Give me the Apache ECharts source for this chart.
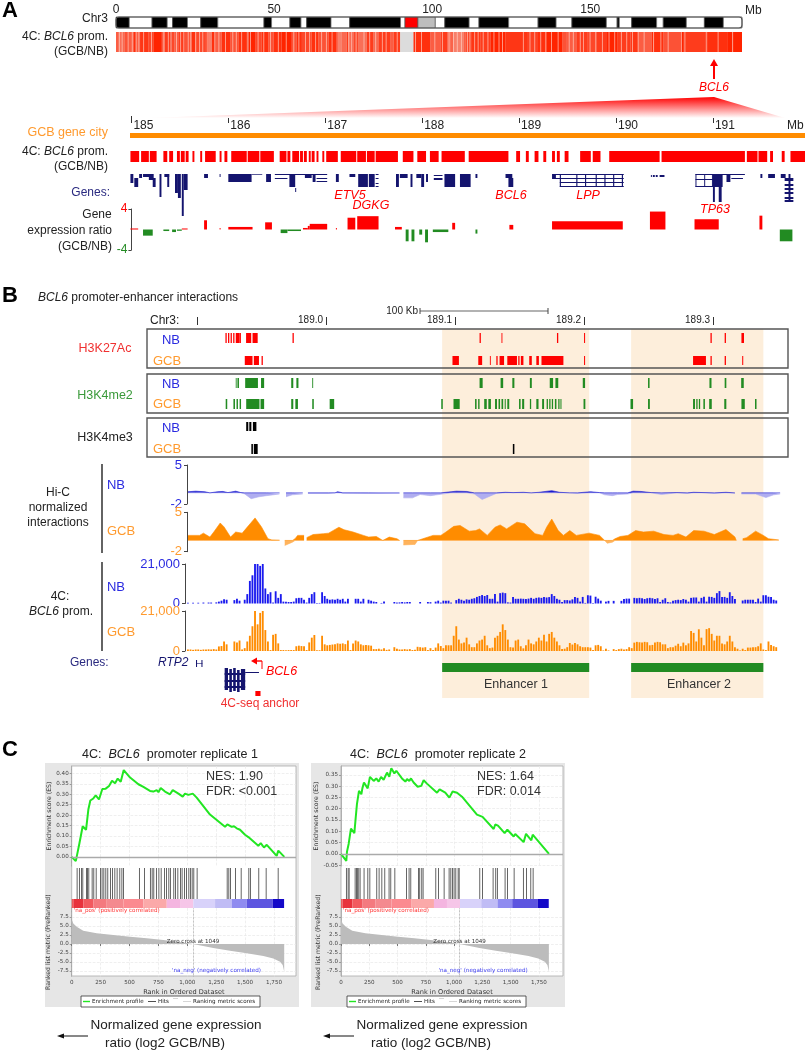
<!DOCTYPE html>
<html><head><meta charset="utf-8">
<style>html,body{margin:0;padding:0;background:#fff}#c{width:805px;height:1050px}</style>
<script src="https://cdn.jsdelivr.net/npm/echarts@6/dist/echarts.min.js"></script>
</head><body><div id="c"></div>
<script>
// ---------- Panel A data (Mb) ----------
const chrBands=[[0,4.2,1],[4.2,11.4,0],[11.4,16.2,1],[16.2,17.9,0],[17.9,22.6,1],[22.6,26.8,0],[26.8,32.2,1],[32.2,46.8,0],[46.8,49.2,1],[49.2,55,0],[55,58.5,1],[58.5,60.3,0],[60.3,68,1],[68,73.9,0],[73.9,90,1],[90,91.4,0],[91.4,95.5,2],[95.5,101,3],[101,104,0],[104,111.7,1],[111.7,114.8,0],[114.8,124.2,1],[124.2,133.5,0],[133.5,139.2,1],[139.2,144.2,0],[144.2,155.1,1],[155.1,158.5,0],[158.5,159.2,1],[159.2,163.1,0],[163.1,171,1],[171,173.1,0],[173.1,180.4,1],[180.4,186.1,0],[186.1,192.1,1],[192.1,198,0]];
const chr4cEnds=[0.7,2.8,4.4,5.5,6.5,7.6,10.2,11.8,14.5,15.3,17.1,17.6,18.5,19.7,21.8,23.9,25.5,28.2,29.2,30.3,31.3,33.4,36.1,38.7,41.4,41.9,44,46.1,48.2,49.8,52.4,55.6,57.2,58.8,61.9,64,67.2,69.8,70.4,71.4,73,73.5,75.1,76.7,79.3,81.4,83,86.7,87.8,89.9,94.1,99.4,102.6,104.7,105.7,106.8,110,110.5,112.6,115.2,118.4,123.1,130,133.2,136.3,141.1,142.6,145.8,149,152.1,155.3,158.5,162.7,165.3,169.5,170.1,173.2,178.5,179.6,186.4,186.9,193.3,194.9,198];
const chr4cLevels=[.5,.4,.6,.5,.9,.5,.85,.7,1,.5,.8,.3,.7,.5,.8,.6,.9,.7,.8,.2,.9,.5,.9,.6,.9,.2,1,.7,.9,.6,.9,1,.6,.9,.7,.9,.6,.9,.4,.2,.4,.8,.4,.7,.35,.8,.4,.8,.5,.8,0,.9,.5,.8,.4,.45,.2,.5,.7,.85,.8,1,.85,.75,.9,1,.6,.5,.8,.7,.8,1,.8,.85,.5,.95,.9,.6,1,.8,1,.9,1,1];
const chr4cPaleStripes=[1,1.8,3.7,5,6.2,7.1,8.6,11.1,15,16.4,19,20.3,21.3,22.7,23.5,25,26.3,27.3,28.7,31.1,32.4,34.5,36.8,37.9,39.6,42.4,44.8,46.6,48.7,51.2,53.7,56.1,57.7,59.8,61.1,63,64.9,66.4,68.2,73.5,74.4,75.8,78.3,80.1,82,84.1,85.3,88.8,94.6,96.5,100.7,103.1,105.2,106.6,107.8,109.1,111,111.8,113.3,114.4,116,117.5,119.4,121,122.1,128.7,130.8,132.3,134.2,135.8,137.6,139.7,143.2,144.5,146.7,147.7,149.8,151.6,153.7,155.8,157.6,159.7,161.4,163.2,165,166.9,169.9,172.2,174.5,178.7,179.8,186.7,190.3,194.9];
const chrTicks=[0,50,100,150];
const zoomTicks=[185,186,187,188,189,190,191];
const zoom4c=[[184.99,185.08],[185.1,185.18],[185.19,185.26],[185.33,185.37],[185.39,185.43],[185.47,185.5],[185.51,185.55],[185.56,185.59],[185.63,185.65],[185.71,185.73],[185.76,185.87],[185.91,185.93],[185.96,185.99],[186.03,186.19],[186.2,186.32],[186.33,186.47],[186.53,186.6],[186.61,186.64],[186.66,186.73],[186.74,186.77],[186.78,186.81],[186.83,186.85],[186.86,186.89],[186.91,186.93],[186.97,186.99],[187.01,187.13],[187.16,187.32],[187.33,187.42],[187.43,187.51],[187.52,187.75],[187.8,187.91],[187.95,188.04],[188.08,188.17],[188.2,188.44],[188.48,188.89],[188.97,189.01],[189.07,189.1],[189.16,189.2],[189.25,189.28],[189.34,189.37],[189.39,189.42],[189.47,189.51],[189.63,189.74],[189.76,189.84],[189.93,190.45],[190.47,191.33],[191.35,191.46],[191.47,191.56],[191.59,191.62],[191.71,191.74],[191.8,191.95]];
const zoomGenes=[[184.99,185.02,1,10],[185.03,185.07,5,14],[185.08,185.11,1,5],[185.12,185.19,1,4],[185.18,185.23,1,7],[185.22,185.25,5,14],[185.29,185.31,1,24],[185.34,185.39,1,4],[185.37,185.39,1,14],[185.45,185.48,1,20],[185.48,185.51,1,25],[185.52,185.54,1,43],[185.54,185.58,1,17],[185.75,185.79,1,5],[185.91,185.92,1,4],[186.0,186.24,1,9],[186.24,186.35,1,1.7],[186.39,186.44,1,9],[186.48,187.02,1,2],[186.48,186.61,5,6],[186.63,186.69,1,14],[186.69,186.7,15,19],[186.79,186.86,1,5],[186.87,186.9,1,9],[186.91,187.02,5,6],[186.91,187.02,8,9],[187.11,187.14,1,9],[187.25,187.31,1,4],[187.34,187.44,1,14],[187.45,187.51,1,14],[187.52,187.55,1,2],[187.52,187.55,5,6],[187.52,187.55,10,11],[187.52,187.55,13,14],[187.73,187.76,1,14],[187.77,187.85,1,5],[187.88,187.9,1,14],[187.94,187.99,1,5],[187.99,188.02,1,14],[188.04,188.06,1,9],[188.12,188.21,2,3],[188.12,188.21,5,7],[188.23,188.34,1,14],[188.39,188.5,1,14],[188.55,188.57,1,5],[188.86,188.93,1,5],[188.89,188.94,5,14],[189.34,190.08,1,2],[189.34,190.08,5,6],[189.42,190.08,9,10],[189.42,190.08,13,14],[189.42,189.432,1,14],[189.59,189.602,1,14],[189.68,189.692,1,14],[189.79,189.802,1,14],[189.88,189.892,1,14],[189.97,189.982,1,14],[190.06,190.072,1,14],[189.34,189.38,2,5],[190.36,190.37,2,4],[190.38,190.4,2,4],[190.41,190.43,2,4],[190.45,190.5,2,4],[190.82,191.33,1,2],[190.82,191.02,6,7],[190.82,191.02,13,14],[190.82,190.83,1,14],[190.91,190.92,1,14],[190.99,191.0,1,14],[191.0,191.1,1,14],[191.0,191.02,14,29],[191.06,191.09,14,29],[191.14,191.18,1,9],[191.19,191.31,5,6],[191.49,191.51,1,5],[191.57,191.64,1,5],[191.7,191.75,1,5],[191.74,191.83,5,8],[191.74,191.83,11,13],[191.74,191.83,15,17],[191.74,191.83,19,21],[191.74,191.83,24,26],[191.74,191.83,27,29],[191.78,191.8,1,29]];
const exprUp=[[184.99,185.07,.2],[185.52,185.58,.2],[185.75,185.78,1.8],[185.91,185.92,.3],[186.0,186.25,.5],[186.38,186.45,1.4],[186.77,186.82,.3],[186.82,186.84,.7],[186.84,187.02,1.1],[187.11,187.12,.3],[187.23,187.31,2.3],[187.33,187.55,2.6],[187.72,187.79,.5],[188.31,188.34,1.3],[188.9,188.94,.9],[189.34,190.07,1.6],[190.35,190.51,3.5],[190.81,191.06,2],[191.48,191.51,2.7]];
const exprDown=[[185.12,185.22,-1.2],[185.33,185.39,-.3],[185.42,185.46,-.5],[185.47,185.52,-.25],[186.54,186.61,-.7],[186.61,186.75,-.3],[187.83,187.86,-2.3],[187.89,187.92,-2.3],[187.97,188.0,-1],[188.03,188.06,-2.5],[188.11,188.27,-.5],[188.55,188.57,-.8],[191.69,191.82,-2.3]];
// ---------- Panel B data (kb from 189.0 Mb) ----------
const enhancers=[[90,204],[236.5,339]];
const k27NB=[[-78,-77],[-76,-75],[-74,-73],[-72,-71],[-70,-67],[-67,-66],[-62,-58],[-57,-53],[-26,-25],[119,120],[136,136.6],[179,180],[200,200.8],[298,299],[309,310],[322,324]];
const k27GCB=[[-63,-57],[-56,-52],[-50,-49],[98,103],[118,121],[127,127.6],[132,133],[134.5,138],[140.5,148],[149,150],[151,153],[157.5,159.5],[163,165],[167,184],[200,200.8],[284.5,294.5],[298,299],[309,310],[322.6,323.4]];
const me2NB=[[-70,-69.5],[-68.7,-67.5],[-62.7,-52.8],[-50.4,-48],[-27,-25.4],[-23,-21.4],[-10.7,-10],[119,121.4],[135.3,137.3],[144.4,146],[158,159.5],[173.4,176],[177.8,180],[199,200.8],[249.6,250.8],[297.2,298.8],[309,310.3],[321.8,323.8]];
const me2GCB=[[-77.8,-76.6],[-71.8,-70.6],[-69.4,-68.3],[-67,-65.9],[-61.9,-51.6],[-50.8,-48],[-27,-25.4],[-23.8,-21.8],[-10.7,-9.5],[2.8,6.3],[89.3,90.5],[98.8,103.6],[115.5,116.7],[117.9,119],[122.6,124.6],[125.8,127.8],[131,132.5],[133.7,134.9],[136,137.3],[138.5,139.3],[140.5,142],[149.6,150.8],[152,153.6],[158,159],[163,164.7],[167.5,169],[171,172],[173,174],[175,176],[177.4,178.6],[180,181],[181.7,182.5],[199.6,201],[236,238],[249.6,251],[284.5,286],[287,288],[289,290],[292.5,293.7],[297,299],[308.7,310.3],[322,324.6],[332.5,333.7]];
const me3NB=[[-61.9,-60.3],[-59.5,-57.9],[-56.7,-54]];
const me3GCB=[[-57.9,-56.7],[-56,-53],[144.8,146]];
const bTicks=[-100,0,100,200,300];
const bTickLabels=[0,100,200,300];
const hicNB=[[-107,.2],[-101,.3],[-94,.2],[-90,0],[-84,.2],[-80,.25],[-76,.05],[-70,.3],[-66,.05],[-63,-.2],[-58,-1.05],[-52,-.7],[-46,-.5],[-36,-.2],[-35,null],[-31,-.7],[-26,-.35],[-18,-.2],[-16,null],[-14,-.1],[2,-.1],[7,0],[9,.2],[13,-.05],[33,-.1],[57,-.1],[58,null],[60,-.9],[67,-.9],[73,-.3],[81,-.5],[89,-.25],[97,.2],[101,.3],[109,.25],[115,-.2],[121,-1.2],[127,-.6],[132,-.1],[139,.1],[145,.05],[153,.1],[159,0],[165,.1],[175,.4],[181,.1],[189,0],[195,-.1],[205,.2],[212,.05],[216,-.35],[222,-.5],[226,-.3],[234,-.2],[238,.3],[244,.25],[252,.05],[260,-.3],[272,.05],[280,-.1],[285,.1],[293,.05],[301,-.1],[310,.1],[317,-.1],[319,null],[322,-.2],[333,-.2],[341,-.85],[347,-.35],[352,-.2]];
const hicGCB=[[-107,.9],[-98,.9],[-95,1.3],[-90,.6],[-87,1.5],[-82,3.1],[-79,2.4],[-74,.6],[-70,1.5],[-65,1.3],[-62,2.1],[-55,4],[-50,2.4],[-45,.3],[-42,.1],[-36,.05],[-35,null],[-32,-.9],[-26,-.3],[-24,.3],[-22,.9],[-17,.9],[-16,null],[-15,.5],[-10,1.05],[-2,1.2],[2,1.3],[10,2.35],[14,1.9],[21,1.5],[29,.9],[33,.6],[39,.7],[44,0],[49,.6],[55,.3],[57,0],[58,null],[60,-.8],[69,-.7],[71,0],[75,.3],[83,.9],[89,.9],[93,1.5],[99,2.5],[104,2.65],[111,1.65],[116,1.75],[119,2.05],[125,.9],[131,2.35],[135,2.75],[140,2.05],[148,3.25],[154,2.95],[162,1.2],[168,.9],[171,2.35],[175,3.8],[180,1.75],[184,.9],[189,1.75],[194,.9],[204,1.3],[212,.9],[216,0],[218,-.5],[222,-.3],[224,.3],[228,.7],[234,.9],[240,1.75],[246,1.5],[254,1.65],[262,1.05],[269,.9],[273,1.2],[279,.6],[285,1.75],[293,1.65],[301,1.05],[310,1.95],[317,.6],[318,0],[319,null],[323,.3],[326,.5],[333,1.65],[339,.9],[343,.3],[351,.1]];
const c4NB=[.4,0,.4,0,.4,0,.5,0,.5,.5,0,.6,1,1.5,2.2,2,0,0,1.8,2.5,1.5,0,2,5,12,15,21,21,20,21,8,5,6,.5,6.5,3,5,1,.9,.8,.8,1,2.8,3,3,2,.5,3,5,6,.3,.3,6,4,2.5,2,2.2,2,2.5,2,2.5,1,2.5,0,0,2.5,2.5,1,2.5,0,2,1.5,1,.8,0,.3,1,0,0,0,.8,.5,.6,.8,.6,.8,.8,0,0,0,.8,0,0,.8,.7,0,1,1.5,.5,1.5,1.5,1.5,.5,0,1.8,2.5,2,1.5,2.2,2,2.5,2.8,3.5,4,4.5,4,4.5,2.5,2.5,5,1,5.5,5.8,5.5,.6,.5,3.5,2.5,2.5,2.6,2.5,2.4,2.6,3,2.5,3,3.2,3,3.4,3.2,3.4,5,4,2.5,2,.8,1.8,1.8,1.6,2.2,3.4,3,1,3.5,.3,4.4,4.2,.3,3.6,2.6,1.5,0,1,1.4,0,1.4,0,0,1.4,2.4,2.6,2.6,0,3,2.8,3,2.8,2.4,2.8,3,2.8,2.4,2.8,.8,2,2.8,.8,.6,1.4,1.8,2,1.8,2.4,2,1,3,3.2,3.2,1,3,3.6,1,3.6,3.5,3,5.5,6.6,3.5,3.5,3,6,4,2.4,0,0,1.6,2,2,2,2,.8,2.6,1,4.4,4.4,3.6,3.4,2,1.6];
const c4GCB=[.8,.8,.6,.8,.8,.6,.8,.8,.9,.8,1,.8,2.4,2.6,5,3.5,0,0,5,4.5,5.5,.8,1.5,5,8,13,21,14,20,21,11,5,.5,8.5,9,4,.5,.5,.4,.5,.5,.5,2.5,2.8,2.6,2.5,.5,4.5,7,8.4,.4,.4,8,3.5,3,3.2,3.4,3.5,4,3.8,4,3.6,5.5,.5,4,5.5,5,3.5,3,3.2,3,2.8,1,1,1.2,.8,1.4,.6,.8,0,2,1.2,.8,.8,1,.8,1,.5,.6,2.2,2,1.8,2,.5,1.5,.5,1.8,4,2.6,1.5,3,3,3,8,13,6,4,4.5,7,3.5,2,2,4,5.5,6,8,3,1.5,1.8,7,8,10,14,11,6,2,1.8,5.5,6,2.5,1.4,3,6,4,3.5,5,7,5.5,8.5,5,9,10,7,5,3,1,1.2,2,4.2,3.4,4.2,3.5,2.5,2,2,2,1.8,.5,3,3.2,2.5,.3,1.2,.3,0,1,.5,1,1.2,.8,1,2,1.5,4.4,4.8,4.6,4.4,4.8,4.6,3,3.2,4.4,4.8,4.6,3.5,3.5,1.5,2,2,2.8,3.8,2.5,4.4,3,4,10.5,9.5,5,11.4,7,3,11.5,12,9,5.5,8,8,4,3.5,5,8,5,2,1.2,.3,1.2,.5,1.8,1.8,2,2,2.5,4,.8,.5,5,3.2,2.5,2];
const bclGeneBlue=[[-78.6,-76,0,22],[-75,-73,1,24],[-72,-70,0,23],[-69,-67,2,24],[-66,-62.7,1,22],[-78.6,-62.7,5,7],[-78.6,-62.7,12,14],[-78.6,-62.7,18,20],[-62.7,-52,4,5]];
const rtp2Gene=[[-100.8,-100,-8,-1],[-96.6,-95.8,-8,-1],[-100.8,-95.8,-5,-4.4]];
const anchor=[[-54.8,-50.8,23,28]];
// ---------- Panel C data ----------
const es1=[[0,0],[35,-.02],[43,0],[66,.063],[78,.066],[95,.147],[124,.13],[144,.227],[161,.27],[187,.28],[208,.295],[236,.275],[265,.325],[294,.327],[323,.34],[349,.365],[375,.353],[398,.375],[424,.36],[450,.416],[505,.38],[577,.348],[591,.353],[620,.335],[634,.34],[677,.316],[706,.313],[735,.32],[750,.31],[770,.33],[807,.313],[850,.3],[874,.32],[923,.303],[960,.289],[980,.303],[1009,.297],[1047,.303],[1081,.284],[1196,.203],[1326,.144],[1346,.156],[1384,.144],[1404,.147],[1427,.137],[1456,.13],[1499,.106],[1528,.095],[1614,.053],[1635,.066],[1663,.045],[1687,.058],[1773,.005],[1787,.03],[1839,0]];
const es2=[[0,0],[47,-.031],[53,.01],[68,.045],[77,.042],[88,.112],[118,.092],[130,.16],[141,.22],[159,.279],[180,.264],[189,.29],[203,.316],[236,.29],[256,.341],[289,.323],[312,.334],[333,.32],[354,.341],[377,.328],[407,.36],[427,.341],[445,.379],[472,.356],[489,.368],[539,.334],[569,.32],[584,.331],[604,.323],[619,.334],[642,.316],[678,.297],[710,.301],[731,.326],[760,.311],[775,.319],[849,.271],[872,.286],[922,.271],[958,.249],[987,.276],[1026,.271],[1070,.253],[1202,.174],[1252,.164],[1350,.11],[1364,.13],[1388,.125],[1447,.092],[1471,.107],[1527,.077],[1541,.088],[1615,.052],[1636,.089],[1683,.06],[1695,.085],[1839,0]];
const hits1=[43,63,81,92,124,133,144,173,187,208,245,259,274,291,308,332,349,369,389,412,430,444,582,626,677,692,706,729,750,770,799,816,836,850,879,894,914,937,951,972,989,1009,1023,1038,1052,1081,1341,1355,1370,1413,1462,1528,1542,1614,1678,1782];
const hits2=[44,59,68,121,133,141,153,165,200,233,251,312,333,357,383,421,436,472,575,598,613,681,692,710,722,834,858,908,952,967,982,996,1011,1032,1041,1223,1247,1341,1364,1379,1447,1468,1527,1609,1636,1674,1695];
const rankMetric=[[0,6.9],[14,5.7],[43,4.8],[100,3.7],[216,3],[360,2.5],[505,2],[649,1.6],[793,1.1],[937,.55],[1049,0],[1225,-1.1],[1369,-1.9],[1514,-2.6],[1658,-3.3],[1744,-4],[1802,-4.9],[1825,-5.8],[1838,-7.7]];
const heatEdges=[0,14,101,187,303,447,620,822,937,1052,1240,1384,1514,1738,1837];
const heatColours=['#ee5a5a','#e8323c','#f25a5f','#f47a7f','#f48a8f','#fb8a90','#fba9a9','#f4b5e0','#f6c6e8','#d8d2fa','#c0bcf5','#8f8bf0','#5d55e0','#1408c8'];
const rankTicks=[0,250,500,750,1000,1250,1500,1750];
const es1Ticks=[0,.05,.1,.15,.2,.25,.3,.35,.4];
const es2Ticks=[-.05,0,.05,.1,.15,.2,.25,.3,.35];
const metricTicks=[-7.5,-5,-2.5,0,2.5,5,7.5];
const zeroCross=1049;

// ---------- colours / fonts ----------
const F='"Liberation Sans",Arial,sans-serif', RED='#ff0000',ORANGE='#ff8c00',LORANGE='#ff9a2e',BLUE='#2a2ae0',GREEN='#228b22',NAVY='#14146e';
const grids=[],xAxes=[],yAxes=[],series=[],gfx=[];
function G(l,t,w,h,xr,yr,xo,yo){const i=grids.length;grids.push({left:l,top:t,width:w,height:h});
 xAxes.push(Object.assign({type:'value',gridIndex:i,min:xr[0],max:xr[1],show:false,splitLine:{show:false}},xo||{}));
 yAxes.push(Object.assign({type:'value',gridIndex:i,min:yr[0],max:yr[1],show:false,splitLine:{show:false}},yo||{}));return i;}
function rects(g,items,color,z,stroke){series.push({type:'custom',coordinateSystem:'cartesian2d',xAxisIndex:g,yAxisIndex:g,z:z==null?2:z,silent:true,clip:false,encode:{x:[0,1],y:[2,3]},data:items,
 renderItem:(p,api)=>{const a=api.coord([api.value(0),api.value(2)]),b=api.coord([api.value(1),api.value(3)]);
  const c=typeof color==='function'?color(api.value(4)):color;
  return {type:'rect',shape:{x:a[0],y:Math.min(a[1],b[1]),width:Math.max(b[0]-a[0],.9),height:Math.abs(b[1]-a[1])},style:stroke?{fill:c,stroke:stroke,lineWidth:.7}:{fill:c}};}});}
const rich={i:{fontStyle:'italic',fontFamily:F},b:{fontWeight:'bold',fontFamily:F}};
function T(x,y,s,size,color,align,extra){const r={};for(const k in rich)r[k]=Object.assign({},rich[k],{fontSize:size,fill:color||'#222'});
 gfx.push(Object.assign({type:'text',z:20,silent:true,x:x,y:y,style:{text:s,fontFamily:F,fontSize:size,fill:color||'#222',align:align||'left',textAlign:align||'left',verticalAlign:'middle',textVerticalAlign:'middle',rich:r}},extra||{}));}
function L(x1,y1,x2,y2,c,w,z){gfx.push({type:'line',z:z==null?19:z,silent:true,shape:{x1,y1,x2,y2},style:{stroke:c,lineWidth:w||1}});}
function R(x,y,w,h,fill,stroke,z,lw,r){gfx.push({type:'rect',z:z==null?-1:z,silent:true,shape:{x,y,width:w,height:h,r:r||0},style:{fill:fill||'transparent',stroke:stroke||null,lineWidth:lw||1}});}
function P(pts,fill,z){gfx.push({type:'polygon',z:z==null?19:z,silent:true,shape:{points:pts},style:{fill}});}
const lastStyle=o=>Object.assign(gfx[gfx.length-1].style,o);

// ---------- Panel A ----------
T(2,11,'A',22,'#000','left');lastStyle({fontWeight:'bold'});
const chrX=[0,198];
const gChr=G(116,17,626,11,chrX,[0,1],{show:true,position:'top',axisLine:{show:false},axisTick:{show:false},axisLabel:{customValues:chrTicks,margin:1,fontSize:12,color:'#222',fontFamily:F}});
const stain=['#ffffff','#000000','#ff0000','#bdbdbd'];
rects(gChr,chrBands.map(b=>[b[0],b[1],0,1,b[2]]),v=>stain[v],2,'#555');
R(116,17,626,11,null,'#555',10,1.2,3);
T(745,11,'Mb',12,'#222');T(108,19,'Chr3',12,'#222','right');
T(108,37,'4C: {i|BCL6} prom.',12,'#222','right');T(108,52,'(GCB/NB)',12,'#222','right');
const gChr4c=G(116,32,626,20,chrX,[0,1]);
rects(gChr4c,chr4cEnds.map((e,i)=>[i?chr4cEnds[i-1]:0,e,0,1,chr4cLevels[i]]),v=>v===0?'#dcdcdc':'rgba(255,36,0,'+(.4+.6*v)+')');
rects(gChr4c,chr4cPaleStripes.map(p=>[p,p+.28,0,1]),'rgba(255,215,205,.7)',3);
R(116,32,626,20,'#f0e4e0',null,-1);
L(714,79,714,65,RED,2);P([[710,66],[718,66],[714,59]],RED);
T(714,88,'BCL6',12,RED,'center');lastStyle({fontStyle:'italic'});
gfx.push({type:'polygon',z:1,silent:true,shape:{points:[[714,97],[785,118],[150,118]]},style:{fill:{type:'linear',x:0,y:0,x2:0,y2:1,colorStops:[{offset:0,color:'#ff0000'},{offset:1,color:'#ffffff'}]}}});

const zr=[185,191.95];
const gZoom=G(131.4,118,673.6,5,zr,[0,1],{show:true,position:'bottom',axisLine:{show:false},axisTick:{customValues:zoomTicks,inside:true,length:7,lineStyle:{color:'#333'}},axisLabel:{customValues:zoomTicks,margin:-3,align:'left',padding:[0,0,0,2],fontSize:12,color:'#222',fontFamily:F}});
T(787,126,'Mb',12,'#222');
T(108,133,'GCB gene city',12.5,LORANGE,'right');
R(130,133,675,5,ORANGE,null,3);
T(108,152,'4C: {i|BCL6} prom.',12,'#222','right');T(108,167,'(GCB/NB)',12,'#222','right');
const gZ4c=G(131.4,151,673.6,11,zr,[0,1]);
rects(gZ4c,zoom4c.map(s=>[s[0],s[1],0,1]),RED);
T(110,193,'Genes:',12,'#2a2a80','right');
const gZGenes=G(131.4,173,673.6,45,zr,[0,45],{},{inverse:true});
rects(gZGenes,zoomGenes,NAVY);
for(const [x,y,s] of [[350,196,'ETV5'],[371,206,'DGKG'],[511,196,'BCL6'],[588,196,'LPP'],[715,210,'TP63']]){T(x,y,s,12.5,RED,'center');lastStyle({fontStyle:'italic'});}
T(97,215,'Gene',12,'#222','center');T(112,231,'expression ratio',12,'#222','right');
T(112,247,'(GCB/NB)',12,'#222','right');
const gExpr=G(131.4,209,673.6,41,zr,[-4,4],{},{show:true,axisLine:{show:true,onZero:false,lineStyle:{color:'#444'}},axisTick:{customValues:[-4,4],length:3,lineStyle:{color:'#444'}},axisLabel:{customValues:[-4,4],margin:4,fontSize:12,fontFamily:F,color:v=>v>0?RED:GREEN}});
rects(gExpr,exprUp.map(s=>[s[0],s[1],0,s[2]]),RED);
rects(gExpr,exprDown.map(s=>[s[0],s[1],0,s[2]]),GREEN);

// ---------- Panel B ----------
T(2,296,'B',22,'#000','left');lastStyle({fontWeight:'bold'});
T(38,298,'{i|BCL6} promoter-enhancer interactions',12,'#222');
T(418,311,'100 Kb',10,'#222','right');
L(420,311,548,311,'#666',1.2);L(420,308,420,314,'#444',1);L(548,308,548,314,'#444',1);
T(150,321,'Chr3:',12,'#222');
const xB=[-138.8,358.1];
const gB=G(147,315,641,10,xB,[0,1],{show:true,position:'bottom',axisLine:{show:false},axisTick:{customValues:bTicks,inside:true,length:8,lineStyle:{color:'#333'}},axisLabel:{customValues:bTickLabels,margin:-10,align:'right',padding:[0,3,0,0],fontSize:10,color:'#222',fontFamily:F,formatter:v=>(189+v/1000).toFixed(1)}});
const gPeach=G(147,329,641,369,xB,[0,1]);
rects(gPeach,enhancers.map(e=>[e[0],e[1],0,1]),'#fdeedb',1);
for(const [y,h] of [[329,39],[374,39],[418,39]])R(147,y,641,h,null,'#555',10,1.4);
const rowDefs=[[333,10,k27NB,RED],[356,9,k27GCB,RED],[378,10,me2NB,GREEN],[399,10,me2GCB,GREEN],[422,9,me3NB,'#000'],[444,10,me3GCB,'#000']];
for(const [y,h,data,col] of rowDefs){const g=G(147,y,641,h,xB,[0,1]);rects(g,data.map(s=>[s[0],s[1],0,1]),col,3);}
T(105,349,'H3K27Ac',12.5,'#f03030','center');T(105,396,'H3K4me2',12.5,'#3a9a3a','center');T(105,438,'H3K4me3',12.5,'#222','center');
for(const y of [340,384,428])T(171,y,'NB',13,BLUE,'center');
for(const y of [361,404,449])T(167,y,'GCB',13,LORANGE,'center');
L(102,464,102,553,'#222',1.4);L(102,562,102,651,'#222',1.4);
T(58,493,'Hi-C',12,'#222','center');T(58,508,'normalized',12,'#222','center');T(58,523,'interactions',12,'#222','center');
T(116,485,'NB',13,BLUE,'center');T(121,531,'GCB',13,LORANGE,'center');
T(60,597,'4C:',12,'#222','center');T(61,612,'{i|BCL6} prom.',12,'#222','center');
T(116,587,'NB',13,BLUE,'center');T(121,632,'GCB',13,LORANGE,'center');
const bracket=(vals,col,fmt)=>({show:true,axisLine:{show:true,onZero:false,lineStyle:{color:'#444'}},axisTick:{customValues:vals,length:3,lineStyle:{color:'#444'}},axisLabel:{customValues:vals,margin:5,fontSize:13,fontFamily:F,color:col,formatter:fmt}});
const xH=[-107.75,351.9], xC=[-109.3,351.9];
function hic(top,h,data,pos,neg){const g=G(187,top,593,h,xH,[-2,5],{},bracket([-2,5],pos===ORANGE?LORANGE:BLUE));
 const mk=(col,clip)=>series.push({type:'line',xAxisIndex:g,yAxisIndex:g,showSymbol:false,symbol:'none',silent:true,connectNulls:false,lineStyle:{width:.6,color:col},areaStyle:{color:col,opacity:1,origin:0},z:3,data:data.map(d=>[d[0],d[1]==null?null:clip(d[1])])});
 mk(neg,v=>Math.min(v,0));mk(pos,v=>Math.max(v,0));}
hic(465,39,hicNB,'#1a1ad0','#b0aef0');
hic(512.3,39.4,hicGCB,ORANGE,'#ffb35c');
const binStart=-107.75,binKb=2;
function cov(top,h,vals,col,lab){const g=G(185,top,595,h,xC,[0,21],{},bracket([0,21],lab,v=>v?'21,000':'0'));
 rects(g,vals.map((v,i)=>[binStart+i*binKb,binStart+(i+.72)*binKb,0,v]).filter(d=>d[3]>0),col,3);}
cov(564,39.5,c4NB,'#1a1aee',BLUE);
cov(611,40,c4GCB,ORANGE,LORANGE);
T(70,663,'Genes:',12,'#2a2a80','left');
T(158,663,'RTP2',12,NAVY,'left');lastStyle({fontStyle:'italic'});
const gBg=G(147,668,641,30,xB,[0,30],{},{inverse:true});
rects(gBg,bclGeneBlue,NAVY,3);rects(gBg,rtp2Gene,NAVY,3);rects(gBg,anchor,RED,3);
L(262,661,262,669,RED,1);L(262,661,256,661,RED,1.4);P([[257,657.5],[257,664.5],[251,661]],RED);
T(266,672,'BCL6',12.5,RED);lastStyle({fontStyle:'italic'});
T(260,704,'4C-seq anchor',12,'#f03030','center');
const gGreen=G(147,663,641,9,xB,[0,1]);
rects(gGreen,enhancers.map(e=>[e[0],e[1],0,1]),GREEN,3);
T(516,685,'Enhancer 1',12.5,'#333','center');T(699,685,'Enhancer 2',12.5,'#333','center');

// ---------- Panel C ----------
T(2,750,'C',22,'#000','left');lastStyle({fontWeight:'bold'});
const SMALL='"DejaVu Sans",sans-serif';
function gsea(o){const dx=o.panelLeft-45,xr=[0,o.rankMax],l=o.plotLeft,w=o.plotWidth;
 R(o.panelLeft,763,254,244,'#e6e6e6',null,-3);R(l,766,w,210,'#ffffff','#aaa',-2,.8);
 T(o.titleX,755,'4C:  {i|BCL6}  promoter replicate '+o.n,12.5,'#222','center');
 T(o.statX,777,'NES: '+o.nes,12.5,'#333');T(o.statX,792,'FDR: '+o.fdr,12.5,'#333');
 const xAxisG={show:true,axisLine:{show:false},axisTick:{show:false},axisLabel:{show:false},splitLine:{show:true,lineStyle:{color:'#e8e8e8',type:'dashed',width:.7}}};
 const tickCommon={axisLine:{show:true,onZero:false,lineStyle:{color:'#999',width:.7}},axisTick:{length:2,lineStyle:{color:'#777'}},nameLocation:'middle',nameTextStyle:{fontFamily:SMALL,fontSize:6.2,color:'#333'}};
 const g1=G(l,766,w,100,xr,o.esRange,Object.assign({},xAxisG,{axisTick:{show:false,customValues:rankTicks},axisLabel:{show:false,customValues:rankTicks}}),
   Object.assign({},tickCommon,{show:true,name:'Enrichment score (ES)',nameGap:19,axisTick:{customValues:o.esTicks,length:2},axisLabel:{customValues:o.esTicks,margin:3,fontSize:5.6,fontFamily:SMALL,color:'#444',formatter:v=>v.toFixed(2)},splitLine:{show:true,lineStyle:{color:'#e8e8e8',type:'dashed',width:.7}}}));
 series.push({type:'line',xAxisIndex:g1,yAxisIndex:g1,data:o.es,symbol:'none',silent:true,z:4,lineStyle:{color:'#22e622',width:2},markLine:{silent:true,symbol:'none',label:{show:false},lineStyle:{color:'#aaa',width:1.4,type:'solid'},data:[{yAxis:0}]}});
 const g2=G(l,868,w,31,xr,[0,1]);
 rects(g2,o.hits.map(h=>[h,h+6,0,1]),'#555',3);
 const g3=G(l,899,w,9,xr,[0,1]);
 rects(g3,heatColours.map((c,i)=>[heatEdges[i],heatEdges[i+1],0,1,i]),v=>heatColours[v],3);
 const g4=G(l,908,w,68.4,xr,[-9,10],
   {show:true,name:'Rank in Ordered Dataset',nameLocation:'middle',nameGap:12,nameTextStyle:{fontFamily:SMALL,fontSize:6.6,color:'#333'},axisLine:{show:false},axisTick:{customValues:rankTicks,length:2,lineStyle:{color:'#777'}},axisLabel:{customValues:rankTicks,margin:3,fontSize:5.6,fontFamily:SMALL,color:'#444',formatter:v=>v.toLocaleString('en-US')},splitLine:{show:true,lineStyle:{color:'#e8e8e8',type:'dashed',width:.7}}},
   Object.assign({},tickCommon,{show:true,name:'Ranked list metric (PreRanked)',nameGap:20,axisTick:{customValues:metricTicks,length:2},axisLabel:{customValues:metricTicks,margin:3,fontSize:5.6,fontFamily:SMALL,color:'#444',formatter:v=>v.toFixed(1)},splitLine:{show:true,lineStyle:{color:'#e8e8e8',type:'dashed',width:.7}}}));
 series.push({type:'line',xAxisIndex:g4,yAxisIndex:g4,data:rankMetric,symbol:'none',silent:true,z:3,lineStyle:{width:0},areaStyle:{color:'#bcbcbc',opacity:1,origin:0},markLine:{silent:true,symbol:'none',label:{show:false},lineStyle:{color:'#888',width:.7,type:'dotted'},data:[{xAxis:zeroCross}]}});
 const sx=(r)=>l+w*r/o.rankMax;
 const t6=(x,y,s,c,a)=>{T(x,y,s,5.6,c,a);lastStyle({fontFamily:SMALL});};
 t6(l+2,911,"'na_pos' (positively correlated)",'#ff3030');
 t6(sx(zeroCross),942,'Zero cross at 1049','#333','center');
 t6(sx(zeroCross)+68,971,"'na_neg' (negatively correlated)",'#3a3af0','right');
 R(81+dx,996,179,11,'#ffffff','#333',5,.8);
 L(83+dx,1001.5,90+dx,1001.5,'#22e622',1.4);t6(92+dx,1001.5,'Enrichment profile','#222');
 L(148+dx,1001.5,156+dx,1001.5,'#222',.8);t6(158+dx,1001.5,'Hits','#222');
 L(173+dx,998.5,178+dx,998.5,'#ccc',.8);L(183+dx,1001.5,191+dx,1001.5,'#ccc',.8);t6(193+dx,1001.5,'Ranking metric scores','#222');
 T(176+dx,1025,'Normalized gene expression',13.5,'#222','center');
 T(165+dx,1043,'ratio (log2 GCB/NB)',13.5,'#222','center');
 L(60+dx,1036,88+dx,1036,'#111',1);P([[57+dx,1036],[64+dx,1033.5],[64+dx,1038.5]],'#111');
}
gsea({n:1,panelLeft:45,plotLeft:71.7,plotWidth:224.3,rankMax:1940,titleX:170,statX:206,nes:'1.90',fdr:'<0.001',es:es1,hits:hits1,esRange:[-.0435,.4354],esTicks:es1Ticks});
gsea({n:2,panelLeft:311,plotLeft:341,plotWidth:222,rankMax:1963,titleX:438,statX:477,nes:'1.64',fdr:'0.014',es:es2,hits:hits2,esRange:[-.0536,.389],esTicks:es2Ticks});

const chart=echarts.init(document.getElementById('c'),null,{renderer:'canvas'});
chart.setOption({animation:false,backgroundColor:'#fff',textStyle:{fontFamily:F},grid:grids,xAxis:xAxes,yAxis:yAxes,series:series,graphic:{elements:gfx}});
</script></body></html>
